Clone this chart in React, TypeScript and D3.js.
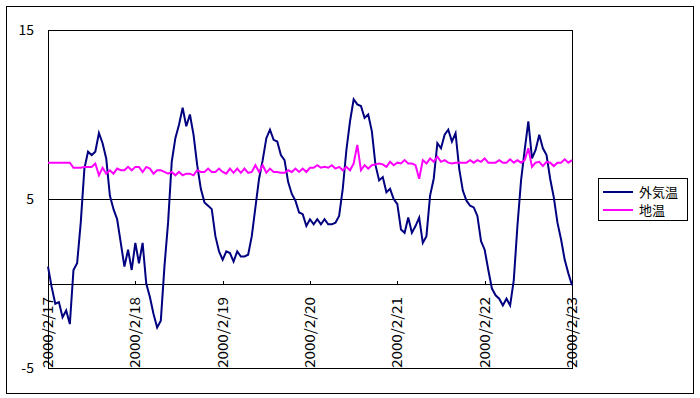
import React from 'react';
import * as d3 from 'd3';

const dayLabels = ['2000/2/17', '2000/2/18', '2000/2/19', '2000/2/20', '2000/2/21', '2000/2/22', '2000/2/23'];
const yTicks = [-5, 5, 15];
const seriesNames = ['外気温', '地温'];

// hourly readings, 2000/2/17 0:00 .. 2000/2/23 0:00
const outsideTemp = [
  1.0, -0.2, -1.2, -1.1, -2.0, -1.6, -2.4, 0.8, 1.2, 3.6, 6.8, 7.8, 7.6, 7.8, 8.9, 8.3, 7.4, 5.2, 4.4, 3.8, 2.4, 1.0, 2.0, 0.8,
  2.4, 1.2, 2.4, 0.0, -0.8, -1.8, -2.6, -2.2, 1.0, 3.6, 7.2, 8.6, 9.4, 10.4, 9.3, 10.0, 8.8, 7.0, 5.6, 4.8, 4.6, 4.4, 2.8, 1.9,
  1.4, 1.9, 1.8, 1.3, 1.9, 1.6, 1.6, 1.7, 2.8, 4.5, 6.2, 7.3, 8.6, 9.1, 8.5, 8.4, 7.6, 7.3, 6.0, 5.3, 4.9, 4.2, 4.1, 3.4,
  3.8, 3.5, 3.8, 3.5, 3.8, 3.5, 3.5, 3.6, 4.0, 5.6, 7.9, 9.6, 10.9, 10.6, 10.5, 9.8, 10.0, 9.0, 7.0, 6.1, 6.3, 5.4, 5.6, 5.0,
  4.7, 3.2, 3.0, 3.9, 3.0, 3.4, 3.9, 2.4, 2.8, 5.2, 6.2, 8.3, 8.0, 8.8, 9.1, 8.4, 8.9, 6.8, 5.5, 4.9, 4.6, 4.5, 4.0, 2.5,
  2.0, 0.8, -0.3, -0.7, -0.9, -1.3, -0.9, -1.3, 0.2, 3.4, 6.1, 7.9, 9.6, 7.4, 7.9, 8.8, 8.0, 7.6, 6.2, 5.1, 3.6, 2.6, 1.4, 0.6,
  -0.1,
];

const groundTemp = [
  7.15, 7.15, 7.15, 7.15, 7.15, 7.15, 7.15, 6.85, 6.85, 6.85, 6.9, 6.9, 6.9, 7.1, 6.4, 6.85, 6.5, 6.7, 6.5, 6.8, 6.7, 6.7, 6.9, 6.7,
  6.9, 6.9, 6.6, 6.9, 6.8, 6.5, 6.7, 6.7, 6.6, 6.5, 6.6, 6.4, 6.6, 6.4, 6.5, 6.5, 6.4, 6.7, 6.6, 6.6, 6.8, 6.6, 6.6, 6.8,
  6.6, 6.5, 6.8, 6.55, 6.8, 6.55, 6.8, 6.55, 6.6, 7.0, 6.6, 7.0, 6.55, 6.8, 6.6, 6.6, 6.55, 6.55, 6.7, 6.6, 6.8, 6.6, 6.8, 6.6,
  6.85, 6.85, 7.0, 6.85, 6.9, 6.85, 7.0, 6.8, 6.9, 6.7, 6.9, 6.7, 7.1, 8.2, 6.7, 7.0, 6.8, 7.0, 7.05, 7.1, 7.05, 6.9, 7.2, 7.0,
  7.15, 7.1, 7.3, 7.1, 7.1, 7.0, 6.2, 7.3, 7.1, 7.4, 7.2, 7.5, 7.2, 7.3, 7.15, 7.1, 7.15, 7.15, 7.15, 7.15, 7.3, 7.15, 7.3, 7.2,
  7.4, 7.15, 7.15, 7.15, 7.3, 7.15, 7.15, 7.35, 7.15, 7.3, 7.15, 7.3, 8.0, 6.9, 7.15, 7.2, 6.95, 7.2, 7.15, 6.95, 7.15, 7.15, 7.35, 7.15,
  7.3,
];

const colors = ['#000080', '#FF00FF'];
const FONT = '"Noto Sans CJK JP", "Noto Sans", sans-serif';

export default function App() {
  const hours = (dayLabels.length - 1) * 24;
  const x = d3.scaleLinear().domain([0, hours]).range([48, 572]);
  const y = d3.scaleLinear().domain([-5, 15]).range([368, 30]);
  const line = d3
    .line<number>()
    .x((_, i) => x(i))
    .y((d) => y(d));
  const series = [outsideTemp, groundTemp];
  const y0 = Math.round(y(0)) + 0.5;

  return (
    <svg
      width={700}
      height={398}
      style={{ position: 'absolute', left: 0, top: 0, background: '#fff' }}
      fontFamily={FONT}
    >
      <rect x={0} y={0} width={700} height={398} fill="#fff" />
      <rect x={6.5} y={6.5} width={687} height={387} fill="none" stroke="#000" strokeWidth={1} />
      {/* plot area */}
      <rect x={x(0)} y={y(15)} width={x(hours) - x(0)} height={y(-5) - y(15)} fill="#fff" stroke="#000" strokeWidth={1} shapeRendering="crispEdges" />
      {yTicks.map((t) => (
        <g key={t}>
          <line x1={x(0)} x2={x(hours)} y1={y(t)} y2={y(t)} stroke="#000" strokeWidth={1} shapeRendering="crispEdges" />
          <text x={34} y={y(t)} dy="0.35em" textAnchor="end" fontSize={14} fill="#000">
            {t}
          </text>
        </g>
      ))}
      {/* category axis at 0 */}
      <line x1={x(0)} x2={x(hours)} y1={y0} y2={y0} stroke="#000" strokeWidth={1} shapeRendering="crispEdges" />
      {dayLabels.map((d, i) => {
        const xp = Math.round(x(i * 24)) + 0.5;
        return (
          <g key={d}>
            <line x1={xp} x2={xp} y1={y0 - 4} y2={y0} stroke="#000" strokeWidth={1} shapeRendering="crispEdges" />
            <text
              transform={`translate(${x(i * 24)},297) rotate(-90)`}
              textAnchor="end"
              dy="0.35em"
              fontSize={14}
              textLength={71}
              lengthAdjust="spacingAndGlyphs"
              fill="#000"
            >
              {d}
            </text>
          </g>
        );
      })}
      {series.map((s, i) => (
        <path key={i} d={line(s) || ''} fill="none" stroke={colors[i]} strokeWidth={2} strokeLinejoin="miter" />
      ))}
      {/* legend */}
      <rect x={598.5} y={178.5} width={89} height={42} fill="#fff" stroke="#000" strokeWidth={1} />
      {seriesNames.map((n, i) => (
        <g key={n}>
          <line x1={603} x2={633} y1={192 + i * 18} y2={192 + i * 18} stroke={colors[i]} strokeWidth={2} />
          <text x={639} y={192 + i * 18} dy="0.36em" fontSize={13} fill="#000">
            {n}
          </text>
        </g>
      ))}
    </svg>
  );
}
